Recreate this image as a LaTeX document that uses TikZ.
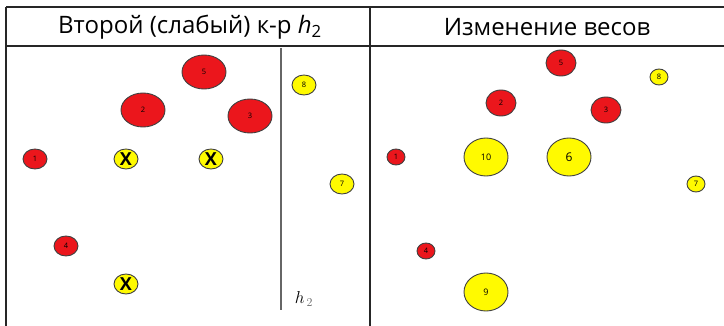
\documentclass[tikz,border=0pt]{standalone}
\usepackage{fontspec}
\setsansfont{Open Sans}
\usetikzlibrary{shapes.geometric, positioning}
\definecolor{ballred}{RGB}{235,22,28}
\definecolor{ballyellow}{RGB}{255,250,0}

\begin{document}
\begin{tikzpicture}[
    x=1pt, y=-1pt,
    ball/.style={ellipse, draw=black!75, line width=0.9pt, inner sep=0pt, font=\sffamily\fontsize{7.5}{7.5}\selectfont},
    bigball/.style={ball, minimum width=44pt, minimum height=34pt},
    smallball/.style={ball, minimum width=24pt, minimum height=20pt},
    tinyball/.style={ball, minimum width=18pt, minimum height=16pt},
    midball/.style={ball, minimum width=30pt, minimum height=26pt},
    hugeball/.style={ball, minimum width=44pt, minimum height=38pt, font=\sffamily\fontsize{9}{9}\selectfont},
    redball/.style={fill=ballred},
    yellowball/.style={fill=ballyellow},
    cross/.style={font=\sffamily\bfseries\fontsize{18}{18}\selectfont},
    header/.style={font=\sffamily\fontsize{24}{26}\selectfont},
    frame/.style={draw=black!85, line width=1.2pt}
]
\useasboundingbox (0,0) rectangle (724,326);

% Table frame
\draw[frame] (6,7) -- (724,7);
\draw[frame] (6,46) -- (724,46);
\draw[frame] (6,7) -- (6,326);
\draw[frame] (370,7) -- (370,326);

% Headers
\node[header] (weak) at (190,27) {Второй (слабый) к-р \textit{h}\textsubscript{2}};
\node[header] (weights) at (547,27) {Изменение весов};

% Left panel: second weak classifier
\node[bigball, redball] (l5) at (204,72) {5};
\node[bigball, redball] (l2) at (143,110) {2};
\node[bigball, redball] (l3) at (250,116) {3};
\node[smallball, redball] (l1) at (35,159) {1};
\node[smallball, redball] (l4) at (66,246) {4};
\node[smallball, yellowball] (l8) at (304,85) {8};
\node[smallball, yellowball] (l7) at (342,184) {7};
\node[smallball, yellowball] (lx1) at (126,159) {};
\node[smallball, yellowball] (lx2) at (211,159) {};
\node[smallball, yellowball] (lx3) at (126,284) {};
\node[cross] at (lx1) {X};
\node[cross] at (lx2) {X};
\node[cross] at (lx3) {X};

% Separating line
\draw[black!60, line width=1.6pt] (281,48) -- (281,310);
\node[font=\fontsize{18}{18}\selectfont] (h2) at (304,299) {$h_{\,\textcolor{black!60}{2}}$};

% Right panel: reweighted samples
\node[midball, redball] (r5) at (561,63) {5};
\node[midball, redball] (r2) at (501,103) {2};
\node[midball, redball] (r3) at (606,110) {3};
\node[tinyball, redball] (r1) at (396,157) {1};
\node[tinyball, redball] (r4) at (426,251) {4};
\node[tinyball, yellowball] (r8) at (659,77) {8};
\node[tinyball, yellowball] (r7) at (696,184) {7};
\node[hugeball, yellowball] (r10) at (486,157) {10};
\node[hugeball, yellowball, font=\sffamily\fontsize{12}{12}\selectfont] (r6) at (569,157) {6};
\node[hugeball, yellowball] (r9) at (486,292) {9};

\end{tikzpicture}
\end{document}
